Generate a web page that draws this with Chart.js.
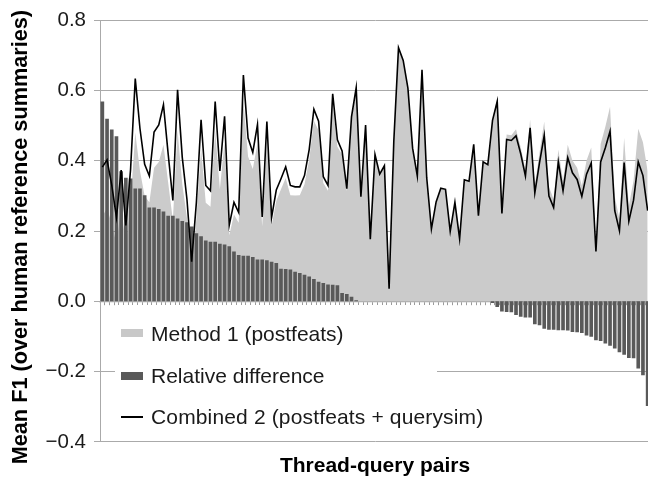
<!DOCTYPE html>
<html>
<head>
<meta charset="utf-8">
<script src="https://cdn.jsdelivr.net/npm/chart.js@4.4.0/dist/chart.umd.min.js"></script>
<style>
  html, body { margin: 0; padding: 0; background: #fff; overflow: hidden; width: 648px; height: 480px; }
  #wrap { position: relative; width: 650px; height: 480px; }
  #c { position: absolute; left: 0; top: 0; }
  #legend { position: absolute; left: 115px; top: 305px; width: 322px; height: 134px; background: #fff; }
  .sw { position: absolute; left: 6px; width: 22px; }
  .lt { position: absolute; left: 36px; font-family: "Liberation Sans", Arial, sans-serif; font-size: 21px; line-height: 24px; color: #1a1a1a; white-space: nowrap; }
</style>
</head>
<body>
<div id="wrap">
  <canvas id="c" width="650" height="480"></canvas>
  <div id="legend">
    <div class="sw" style="top:24px;height:8px;background:#c8c8c8"></div>
    <div class="lt" style="top:17px">Method 1 (postfeats)</div>
    <div class="sw" style="top:67px;height:8px;background:#595959"></div>
    <div class="lt" style="top:59px">Relative difference</div>
    <div class="sw" style="top:111px;height:1.6px;background:#000"></div>
    <div class="lt" style="top:100px;letter-spacing:0.15px">Combined 2 (postfeats + querysim)</div>
  </div>
</div>
<script>
const categories = Array.from({ length: 117 }, (_, i) => String(i + 1));

const yTickLabels = ['\u22120.4', '\u22120.2', '0.0', '0.2', '0.4', '0.6', '0.8'];

const method1 = [
  0.243, 0.264, 0.221, 0.163, 0.273, 0.160, 0.278, 0.481, 0.372, 0.300,
  0.282, 0.380, 0.397, 0.446, 0.338, 0.231, 0.487, 0.334, 0.237, 0.093,
  0.235, 0.436, 0.281, 0.269, 0.486, 0.319, 0.454, 0.188, 0.247, 0.224,
  0.570, 0.412, 0.377, 0.450, 0.214, 0.458, 0.215, 0.286, 0.319, 0.351,
  0.302, 0.301, 0.302, 0.333, 0.403, 0.514, 0.486, 0.337, 0.315, 0.564,
  0.440, 0.418, 0.314, 0.518, 0.606, 0.298, 0.502, 0.177, 0.418, 0.362,
  0.386, 0.036, 0.456, 0.722, 0.686, 0.607, 0.436, 0.357, 0.659, 0.352,
  0.206, 0.283, 0.322, 0.319, 0.199, 0.282, 0.178, 0.346, 0.342, 0.447,
  0.244, 0.397, 0.389, 0.518, 0.578, 0.257, 0.475, 0.473, 0.490, 0.439,
  0.374, 0.518, 0.330, 0.424, 0.512, 0.326, 0.291, 0.432, 0.343, 0.446,
  0.401, 0.380, 0.329, 0.401, 0.438, 0.160, 0.448, 0.497, 0.554, 0.298,
  0.235, 0.466, 0.272, 0.344, 0.491, 0.453, 0.370
];

const relativeDifference = [
  0.569, 0.520, 0.489, 0.470, 0.370, 0.352, 0.350, 0.321, 0.321, 0.302,
  0.267, 0.267, 0.263, 0.256, 0.244, 0.244, 0.236, 0.229, 0.225, 0.213,
  0.194, 0.185, 0.173, 0.170, 0.170, 0.164, 0.162, 0.157, 0.142, 0.132,
  0.130, 0.130, 0.126, 0.119, 0.119, 0.117, 0.113, 0.109, 0.093, 0.092,
  0.091, 0.084, 0.081, 0.076, 0.071, 0.064, 0.056, 0.052, 0.048, 0.047,
  0.046, 0.024, 0.021, 0.013, 0.003, 0, 0, 0, 0, 0,
  0, 0, 0, 0, 0, 0, 0, 0, 0, 0,
  0, 0, 0, 0, 0, 0, 0, 0, 0, 0,
  0, 0, 0, -0.005, -0.016, -0.029, -0.030, -0.031, -0.039, -0.044,
  -0.046, -0.046, -0.065, -0.068, -0.078, -0.081, -0.081, -0.082, -0.082, -0.083,
  -0.087, -0.088, -0.090, -0.097, -0.101, -0.111, -0.113, -0.120, -0.126, -0.134,
  -0.145, -0.152, -0.161, -0.162, -0.191, -0.210, -0.298
];

const combined2 = [
  0.382, 0.403, 0.331, 0.239, 0.374, 0.216, 0.375, 0.634, 0.492, 0.390,
  0.357, 0.482, 0.502, 0.560, 0.420, 0.287, 0.602, 0.410, 0.290, 0.113,
  0.281, 0.517, 0.330, 0.315, 0.569, 0.371, 0.527, 0.217, 0.282, 0.253,
  0.644, 0.465, 0.424, 0.503, 0.240, 0.512, 0.239, 0.317, 0.349, 0.383,
  0.330, 0.326, 0.326, 0.358, 0.432, 0.547, 0.513, 0.355, 0.330, 0.591,
  0.460, 0.428, 0.321, 0.525, 0.608, 0.298, 0.502, 0.177, 0.418, 0.362,
  0.386, 0.036, 0.456, 0.722, 0.686, 0.607, 0.436, 0.357, 0.659, 0.352,
  0.206, 0.283, 0.322, 0.319, 0.199, 0.282, 0.178, 0.346, 0.342, 0.447,
  0.244, 0.397, 0.389, 0.515, 0.569, 0.250, 0.461, 0.458, 0.471, 0.420,
  0.357, 0.494, 0.309, 0.395, 0.472, 0.300, 0.267, 0.397, 0.315, 0.409,
  0.366, 0.347, 0.299, 0.362, 0.394, 0.142, 0.397, 0.437, 0.484, 0.258,
  0.201, 0.395, 0.228, 0.288, 0.397, 0.358, 0.258
];

const FONT = '"Liberation Sans", Arial, sans-serif';
const GRID = '#aaaaaa';

new Chart(document.getElementById('c'), {
  type: 'bar',
  data: {
    labels: categories,
    datasets: [
      {
        type: 'line',
        label: 'Method 1 (postfeats)',
        data: method1,
        fill: 'origin',
        backgroundColor: '#cbcbcb',
        borderColor: 'rgba(0,0,0,0)',
        borderWidth: 0,
        pointRadius: 0,
        tension: 0,
        order: 3,
        xAxisID: 'x',
        yAxisID: 'y'
      },
      {
        type: 'bar',
        label: 'Relative difference',
        data: relativeDifference,
        backgroundColor: '#595959',
        borderWidth: 0,
        barPercentage: 0.78,
        categoryPercentage: 1.0,
        order: 2,
        xAxisID: 'x',
        yAxisID: 'y'
      },
      {
        type: 'line',
        label: 'Combined 2 (postfeats + querysim)',
        data: combined2,
        fill: false,
        borderColor: '#000000',
        borderWidth: 1.6,
        pointRadius: 0,
        tension: 0,
        order: 1,
        xAxisID: 'x',
        yAxisID: 'y'
      }
    ]
  },
  options: {
    responsive: false,
    animation: false,
    devicePixelRatio: 1,
    layout: { padding: { top: 17.3, right: 0, bottom: 0, left: 0 } },
    plugins: {
      legend: { display: false },
      tooltip: { enabled: false }
    },
    scales: {
      x: {
        type: 'category',
        position: { y: 0 },
        offset: true,
        z: 1,
        grid: {
          display: true,
          drawOnChartArea: false,
          drawTicks: true,
          tickLength: 3,
          color: '#9a9a9a',
          offset: true
        },
        border: { display: true, color: GRID, width: 1.2 },
        ticks: { display: false }
      },
      x2: {
        type: 'category',
        position: 'bottom',
        offset: true,
        grid: { display: false, drawTicks: false },
        border: { display: false },
        ticks: { display: false },
        title: {
          display: true,
          text: 'Thread-query pairs',
          color: '#000',
          font: { family: FONT, size: 21, weight: 'bold' },
          padding: { top: 11.7, bottom: 1.2 }
        }
      },
      y: {
        type: 'linear',
        min: -0.4,
        max: 0.8,
        afterFit: (scale) => { scale.width = 100; },
        ticks: {
          stepSize: 0.2,
          padding: 8,
          color: '#1a1a1a',
          font: { family: FONT, size: 20.5 },
          callback: (value) => yTickLabels[Math.round((value + 0.4) / 0.2)]
        },
        grid: {
          color: GRID,
          lineWidth: 1,
          tickLength: 6,
          drawTicks: true
        },
        border: { display: true, color: GRID, width: 1 },
        title: {
          display: true,
          text: 'Mean F1 (over human reference summaries)  ',
          color: '#000',
          font: { family: FONT, size: 21.7, weight: 'bold' },
          padding: { top: 8, bottom: 0 }
        }
      }
    }
  }
});
</script>
</body>
</html>
